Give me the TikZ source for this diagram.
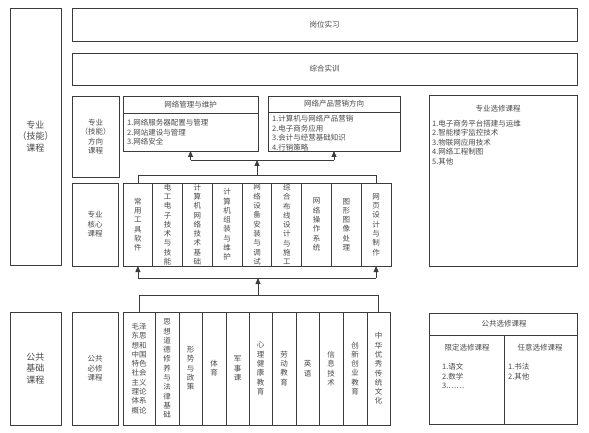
\documentclass[tikz,border=0pt]{standalone}
\usepackage{fontspec}
\setmainfont{Noto Sans CJK SC}
\usetikzlibrary{arrows.meta}
\definecolor{ln}{HTML}{3C3C3C}
\definecolor{tx}{HTML}{4A4A4A}
\tikzset{
  box/.style={draw=ln, line width=0.9pt, inner sep=0pt, outer sep=0pt},
  lbl/.style={inner sep=0pt, text=tx, align=center, font=\fontsize{7.5}{9.5}\selectfont},
  big/.style={inner sep=0pt, text=tx, align=center, font=\fontsize{9}{11.5}\selectfont},
  col/.style={inner sep=0pt, text=tx, align=center, font=\fontsize{7.5}{9.3}\selectfont},
  items/.style={inner sep=0pt, text=tx, align=left, anchor=west, font=\fontsize{7.5}{9.5}\selectfont},
  conn/.style={draw=ln, line width=0.8pt},
  arr/.style={draw=ln, line width=0.8pt, -{Triangle[length=6pt,width=5pt]}},
}
\begin{document}
\begin{tikzpicture}[x=1pt,y=-1pt]
\useasboundingbox[fill=white] (0,0) rectangle (589,433);

% ---- left group labels
\node[box, minimum width=51pt, minimum height=257pt, label={[big]center:专业\\（技能）\\课程}] (zy) at (35.5,136.5) {};
\node[box, minimum width=51pt, minimum height=113pt, label={[big]center:公共\\基础\\课程}] (gg) at (35.5,368.5) {};

% ---- top bars
\node[box, minimum width=505pt, minimum height=33pt, label={[lbl]center:岗位实习}] (gw) at (324.5,24.5) {};
\node[box, minimum width=505pt, minimum height=32pt, label={[lbl]center:综合实训}] (zh) at (324.5,69) {};

% ---- direction row
\node[box, minimum width=47pt, minimum height=81pt, label={[lbl]center:专业\\（技能）\\方向\\课程}] (fx) at (95.5,136.5) {};
\node[box, minimum width=135pt, minimum height=55pt] (d1) at (190.5,123.5) {};
\draw[conn] ([yshift=-17pt]d1.north west) -- ([yshift=-17pt]d1.north east);
\node[lbl] (d1h) at (190.5,104.5) {网络管理与维护};
\node[items] (d1i) at (127,132.5) {1.网络服务器配置与管理\\2.网站建设与管理\\3.网络安全};

\node[box, minimum width=132pt, minimum height=55pt] (d2) at (334,123.5) {};
\draw[conn] ([yshift=-16pt]d2.north west) -- ([yshift=-16pt]d2.north east);
\node[lbl] (d2h) at (334,104) {网络产品营销方向};
\node[items] (d2i) at (272,133) {1.计算机与网络产品营销\\2.电子商务应用\\3.会计与经营基础知识\\4.行销策略};

% ---- professional electives
\node[box, minimum width=148pt, minimum height=171pt] (zx) at (503,180.5) {};
\node[lbl] (zxh) at (498,109) {专业选修课程};
\node[items] (zxi) at (432,142.5) {1.电子商务平台搭建与运维\\2.智能楼宇监控技术\\3.物联网应用技术\\4.网络工程制图\\5.其他};

% ---- core row
\node[box, minimum width=46pt, minimum height=83pt, label={[lbl]center:专业\\核心\\课程}] (hx) at (95,224.5) {};
\foreach \i/\cx/\t in {
  1/137.9/{常\\用\\工\\具\\软\\件},
  2/167.7/{电\\工\\电\\子\\技\\术\\与\\技\\能},
  3/197.4/{计\\算\\机\\网\\络\\技\\术\\基\\础},
  4/227.2/{计\\算\\机\\组\\装\\与\\维\\护},
  5/257.0/{网\\络\\设\\备\\安\\装\\与\\调\\试},
  6/286.8/{综\\合\\布\\线\\设\\计\\与\\施\\工},
  7/316.6/{网\\络\\操\\作\\系\\统},
  8/346.3/{图\\形\\图\\像\\处\\理},
  9/376.1/{网\\页\\设\\计\\与\\制\\作}}
{
  \node[box, minimum width=29.8pt, minimum height=83pt] (c\i) at (\cx,224.5) {};
  \node[col] at (c\i.center) {\t};
}

% ---- public required row
\node[box, minimum width=46pt, minimum height=113pt, label={[lbl]center:公共\\必修\\课程}] (bx) at (95,368.5) {};
\foreach \i/\cx/\w/\t in {
  1/139/32/{毛泽\\东思\\想和\\中国\\特色\\社会\\主义\\理论\\体系\\概论},
  2/167/24/{思\\想\\道\\德\\修\\养\\与\\法\\律\\基\\础},
  3/190.5/23/{形\\势\\与\\政\\策},
  4/214/24/{体\\育},
  5/237.5/23/{军\\事\\课},
  6/260.5/23/{心\\理\\健\\康\\教\\育},
  7/284/24/{劳\\动\\教\\育},
  8/307.5/23/{英\\语},
  9/331/24/{信\\息\\技\\术},
  10/355/24/{创\\新\\创\\业\\教\\育},
  11/378.5/23/{中\\华\\优\\秀\\传\\统\\文\\化}}
{
  \node[box, minimum width=\w pt, minimum height=113pt] (p\i) at (\cx,368.5) {};
  \node[col] at (p\i.center) {\t};
}

% ---- public electives
\node[box, minimum width=148pt, minimum height=111pt] (gx) at (503,368.5) {};
\draw[conn] ([yshift=-22pt]gx.north west) -- ([yshift=-22pt]gx.north east);
\draw[conn] ([xshift=75pt,yshift=-22pt]gx.north west) -- ([xshift=75pt]gx.south west);
\node[lbl] (gxh) at (504,324) {公共选修课程};
\node[lbl] (xd) at (467,348) {限定选修课程};
\node[lbl] (ry) at (540,348) {任意选修课程};
\node[items] (xdi) at (442,376) {1.语文\\2.数学\\3.……};
\node[items] (ryi) at (508,371.5) {1.书法\\2.其他};

% ---- connectors upper
\coordinate (ct) at (257,175);
\coordinate (jt) at (257,160);
\draw[conn] (c1.north) -- (c1.north |- ct) -- (c9.north |- ct) -- (c9.north);
\draw[arr] (ct) -- (jt);
\draw[conn] (d1.south |- jt) -- (d2.south |- jt);
\draw[arr] (d1.south |- jt) -- (d1.south);
\draw[arr] (d2.south |- jt) -- (d2.south);

% ---- connectors lower
\coordinate (pt) at (258,295);
\coordinate (jb) at (258,278);
\draw[conn] (p1.north) -- (p1.north |- pt) -- (p11.north |- pt) -- (p11.north);
\draw[arr] (pt) -- (jb);
\draw[conn] (c1.south |- jb) -- (c9.south |- jb);
\draw[arr] (c1.south |- jb) -- (c1.south);
\draw[arr] (c9.south |- jb) -- (c9.south);
\end{tikzpicture}
\end{document}
